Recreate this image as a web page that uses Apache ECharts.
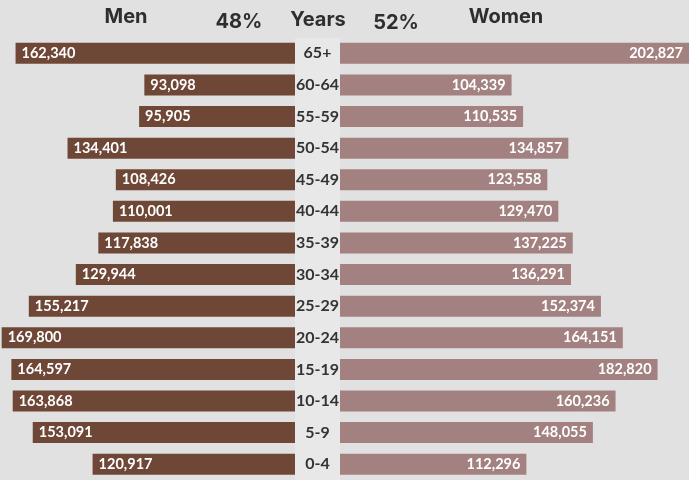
<!DOCTYPE html>
<html><head><meta charset="utf-8">
<script src="https://cdn.jsdelivr.net/npm/echarts@6/dist/echarts.min.js"></script>
<style>html,body{margin:0;padding:0;background:#e1e1e1}#c{width:689px;height:480px}</style>
</head><body><div id="c"></div>
<script>
const categories = ['65+','60-64','55-59','50-54','45-49','40-44','35-39','30-34','25-29','20-24','15-19','10-14','5-9','0-4'];
const men = [162340,93098,95905,134401,108426,110001,117838,129944,155217,169800,164597,163868,153091,120917];
const women = [202827,104339,110535,134857,123558,129470,137225,136291,152374,164151,182820,160236,148055,112296];
const headers = [
  {text:'Men', x:126, y:17},
  {text:'48%', x:239, y:22},
  {text:'Years', x:318, y:20},
  {text:'52%', x:396, y:23},
  {text:'Women', x:506, y:17}
];
const fmt = p => Number(p.value).toLocaleString('en-US');
const chart = echarts.init(document.getElementById('c'));
const TOP = 37.5, H = 445;
chart.setOption({
  backgroundColor:'#e1e1e1',
  animation:false,
  grid:[
    {left:0, width:317.5, top:TOP, height:H},
    {left:295, width:45, top:TOP, height:H},
    {left:317.5, right:0, top:TOP, height:H}
  ],
  xAxis:[
    {gridIndex:0, type:'value', inverse:true, min:0, max:170700, show:false},
    {gridIndex:1, type:'value', min:0, max:1, show:false},
    {gridIndex:2, type:'value', min:0, max:199730, show:false}
  ],
  yAxis:[
    {gridIndex:0, type:'category', data:categories, inverse:true, show:false},
    {gridIndex:1, type:'category', data:categories, inverse:true, z:10,
      axisLine:{show:false}, axisTick:{show:false}, splitLine:{show:false},
      axisLabel:{margin:-22.5, align:'center', color:'#333', fontFamily:'Lato', fontWeight:'bold', fontSize:16}},
    {gridIndex:2, type:'category', data:categories, inverse:true, show:false}
  ],
  graphic:{elements:[
    {type:'rect', z:5, shape:{x:295, y:38, width:45, height:442}, style:{fill:'#e8e8e8'}},
    ...headers.map(h=>({type:'text', z:20, x:h.x, y:h.y, style:{text:h.text, fill:'#2e2e2e', font:'bold 20px Inter', textAlign:'center', textVerticalAlign:'middle'}}))
  ]},
  series:[
    {type:'bar', xAxisIndex:0, yAxisIndex:0, data:men, barWidth:21, itemStyle:{color:'#6f4737'},
      label:{show:true, position:'insideLeft', distance:6, formatter:fmt, color:'#fff', fontFamily:'Lato', fontWeight:'bold', fontSize:14.5}},
    {type:'bar', xAxisIndex:2, yAxisIndex:2, data:women, barWidth:21, clip:true, itemStyle:{color:'#a38181'},
      label:{show:true, position:'insideRight', distance:6, formatter:fmt, color:'#fff', fontFamily:'Lato', fontWeight:'bold', fontSize:14.5}}
  ]
});
</script></body></html>
